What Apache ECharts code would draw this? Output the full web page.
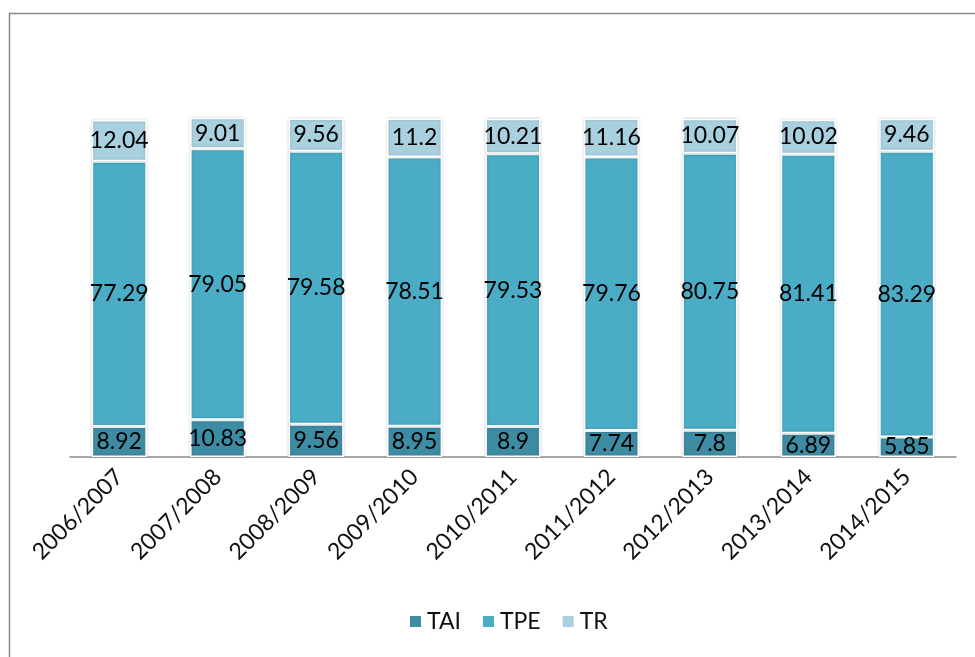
<!DOCTYPE html>
<html>
<head>
<meta charset="utf-8">
<style>
  html, body { margin: 0; padding: 0; background: #fff; }
  #chart { width: 975px; height: 657px; }
</style>
<script src="https://cdn.jsdelivr.net/npm/echarts@6/dist/echarts.min.js"></script>
</head>
<body>
<div id="chart"></div>
<script>
// School years on the category axis
const years = ['2006/2007', '2007/2008', '2008/2009', '2009/2010', '2010/2011',
               '2011/2012', '2012/2013', '2013/2014', '2014/2015'];

// Shares per year (percent), stacked bottom to top
const tai = [8.92, 10.83, 9.56, 8.95, 8.9, 7.74, 7.8, 6.89, 5.85];
const tpe = [77.29, 79.05, 79.58, 78.51, 79.53, 79.76, 80.75, 81.41, 83.29];
const tr  = [12.04, 9.01, 9.56, 11.2, 10.21, 11.16, 10.07, 10.02, 9.46];

const seriesNames = ['TAI', 'TPE', 'TR'];
const seriesData = [tai, tpe, tr];
const colors = ['#3d8ca3', '#4aacc5', '#a8d0de'];

const font = 'Lato, "Open Sans", sans-serif';

const chart = echarts.init(document.getElementById('chart'), null, { renderer: 'canvas' });

chart.setOption({
  animation: false,
  backgroundColor: '#fff',
  graphic: [{
    type: 'rect',
    shape: { x: 9.5, y: 13.5, width: 1000, height: 700 },
    style: { fill: 'none', stroke: '#898989', lineWidth: 1.5 },
    silent: true
  }],
  grid: { left: 70, right: 19, top: 114, bottom: 200 },
  legend: {
    bottom: 19,
    left: 403,
    itemWidth: 13,
    itemHeight: 13,
    itemGap: 20,
    icon: 'rect',
    textStyle: { fontFamily: font, fontSize: 23, color: '#111' },
    data: seriesNames
  },
  xAxis: {
    type: 'category',
    data: years,
    axisLine: { show: true, lineStyle: { color: '#8c8c8c', width: 1.5 } },
    axisTick: { show: false },
    axisLabel: {
      rotate: 45,
      interval: 0,
      margin: 16,
      fontFamily: font,
      fontSize: 23,
      color: '#111'
    }
  },
  yAxis: {
    type: 'value',
    min: 0,
    max: 100,
    show: false,
    splitLine: { show: false }
  },
  series: seriesData.map((vals, i) => ({
    name: seriesNames[i],
    type: 'bar',
    stack: 'total',
    barWidth: '56%',
    data: vals,
    itemStyle: {
      color: colors[i],
      borderColor: '#fff',
      borderWidth: 1.5,
      shadowColor: 'rgba(0,0,0,0.18)',
      shadowBlur: 3
    },
    label: {
      show: true,
      position: 'inside',
      fontFamily: font,
      fontSize: 23,
      color: '#000'
    }
  }))
});
</script>
</body>
</html>
